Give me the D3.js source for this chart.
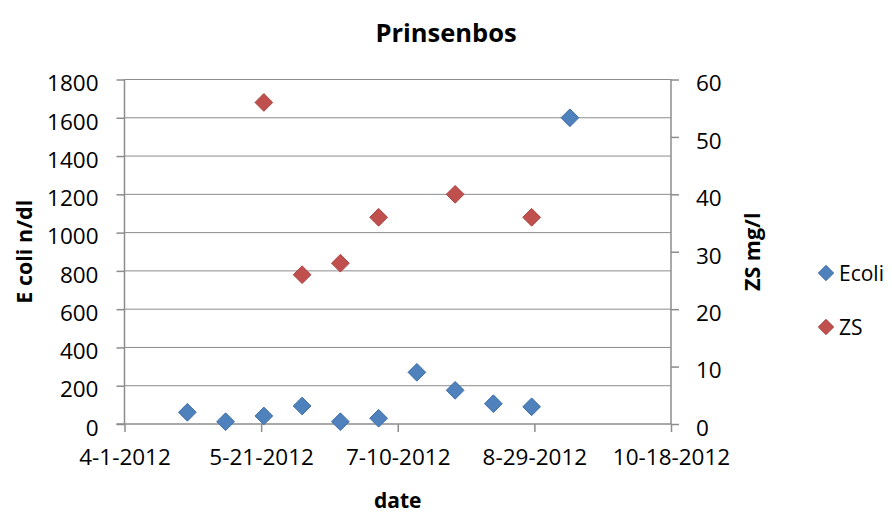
<!DOCTYPE html>
<html>
<head>
<meta charset="utf-8">
<script src="https://cdn.jsdelivr.net/npm/d3@7"></script>
<style>
  html, body { margin: 0; padding: 0; background: #fff; }
  svg { display: block; font-family: "Open Sans", sans-serif; }
</style>
</head>
<body>
<svg id="chart" width="892" height="513"></svg>
<script>
// ---- data ----
const ecoliDates = ["2012-04-24","2012-05-08","2012-05-22","2012-06-05","2012-06-19","2012-07-03","2012-07-17","2012-07-31","2012-08-14","2012-08-28","2012-09-11"];
const ecoliValues = [61, 12, 42, 94, 12, 30, 270, 176, 106, 90, 1600];
const zsDates = ["2012-05-22","2012-06-05","2012-06-19","2012-07-03","2012-07-31","2012-08-28"];
const zsValues = [56, 26, 28, 36, 40, 36];
const xTickLabels = ["4-1-2012","5-21-2012","7-10-2012","8-29-2012","10-18-2012"];
const leftTicks = [0,200,400,600,800,1000,1200,1400,1600,1800];
const rightTicks = [0,10,20,30,40,50,60];
const seriesNames = ["Ecoli","ZS"];
const titleText = "Prinsenbos";
const xTitle = "date";
const yLeftTitle = "E coli n/dl";
const yRightTitle = "ZS mg/l";

// ---- layout ----
const colors = {Ecoli: "#4F81BD", ZS: "#C0504D"};
const strokes = {Ecoli: "#3E6EA6", ZS: "#A84340"};
const grid = "#8C8C8C";
const plot = {left: 124.5, right: 671, top: 79.5, bottom: 424};

const parseISO = d3.timeParse("%Y-%m-%d");
const parseTick = d3.timeParse("%-m-%-d-%Y");
const tickDates = xTickLabels.map(parseTick);

const x = d3.scaleTime()
  .domain([tickDates[0], tickDates[tickDates.length - 1]])
  .range([plot.left, plot.right]);
const yL = d3.scaleLinear().domain([0, 1800]).range([plot.bottom, plot.top]);
const yR = d3.scaleLinear().domain([0, 60]).range([plot.bottom, plot.top]);

const svg = d3.select("#chart");

// gridlines
svg.append("g").selectAll("line").data(leftTicks.slice(1)).join("line")
  .attr("x1", plot.left).attr("x2", plot.right)
  .attr("y1", d => yL(d)).attr("y2", d => yL(d))
  .attr("stroke", grid).attr("stroke-width", 1);

// left axis
const gL = svg.append("g").attr("transform", `translate(${plot.left},0)`)
  .call(d3.axisLeft(yL).tickValues(leftTicks).tickSize(8).tickPadding(18).tickFormat(d3.format("d")));
// right axis
const gR = svg.append("g").attr("transform", `translate(${plot.right},0)`)
  .call(d3.axisRight(yR).tickValues(rightTicks).tickSize(8).tickPadding(17).tickFormat(d3.format("d")));
// bottom axis
const gB = svg.append("g").attr("transform", `translate(0,${plot.bottom})`)
  .call(d3.axisBottom(x).tickValues(tickDates).tickSize(8).tickPadding(12)
    .tickFormat((d, i) => xTickLabels[i]));

[gL, gR, gB].forEach(g => {
  g.select(".domain").attr("stroke", grid).attr("stroke-width", 1.5);
  g.selectAll(".tick line").attr("stroke", grid).attr("stroke-width", 1.5);
  g.selectAll(".tick text").attr("fill", "#000").style("font-size", "22.5px")
    .style("font-family", "'Open Sans', sans-serif");
});
gL.select(".domain").attr("d", `M0,${plot.bottom}V${plot.top}`);
gR.select(".domain").attr("d", `M0,${plot.bottom}V${plot.top}`);
gB.select(".domain").attr("d", `M${plot.left - 8},0H${plot.right}`);
gL.selectAll(".tick text").attr("dy", "0.5em");
gR.selectAll(".tick text").attr("dy", "0.5em");
gB.selectAll(".tick text").attr("dy", "0.95em");

// markers
const diamond = d3.symbol().type(d3.symbolDiamond2);
function drawSeries(dates, values, scale, name, size) {
  svg.append("g").selectAll("path").data(values).join("path")
    .attr("d", diamond.size(size)())
    .attr("transform", (d, i) => `translate(${x(parseISO(dates[i]))},${scale(d)})`)
    .attr("fill", colors[name]).attr("stroke", strokes[name]).attr("stroke-width", 1);
}
drawSeries(ecoliDates, ecoliValues, yL, "Ecoli", 200);
drawSeries(zsDates, zsValues, yR, "ZS", 200);

// titles
svg.append("text").attr("x", 446).attr("y", 42).attr("text-anchor", "middle")
  .style("font-size", "25.5px").style("font-weight", "bold").text(titleText);
svg.append("text").attr("x", (plot.left + plot.right) / 2).attr("y", 508).attr("text-anchor", "middle")
  .style("font-size", "21px").style("font-weight", "bold").text(xTitle);
svg.append("text").attr("transform", `translate(32,${(plot.top + plot.bottom) / 2}) rotate(-90)`)
  .attr("text-anchor", "middle")
  .style("font-size", "21.5px").style("font-weight", "bold").text(yLeftTitle);
svg.append("text").attr("transform", `translate(760,${(plot.top + plot.bottom) / 2}) rotate(-90)`)
  .attr("text-anchor", "middle")
  .style("font-size", "21.5px").style("font-weight", "bold").text(yRightTitle);

// legend
const legendY = d3.scalePoint().domain(seriesNames).range([273, 327]);
const lg = svg.append("g").selectAll("g").data(seriesNames).join("g")
  .attr("transform", d => `translate(826,${legendY(d)})`);
lg.append("path").attr("d", diamond.size(150)())
  .attr("fill", d => colors[d]).attr("stroke", d => strokes[d]).attr("stroke-width", 1);
lg.append("text").attr("x", 13).attr("dy", "0.36em")
  .style("font-size", "21px").text(d => d);
</script>
</body>
</html>
